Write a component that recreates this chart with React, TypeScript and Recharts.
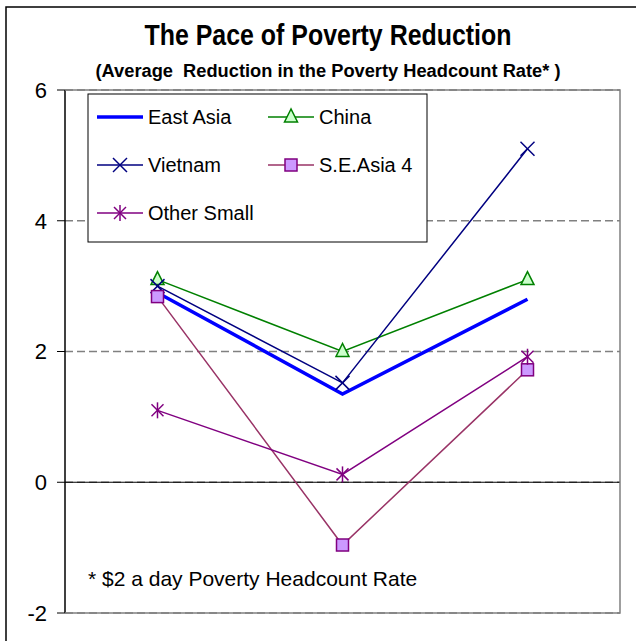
import React from 'react';
import { LineChart, Line, XAxis, YAxis, CartesianGrid, ReferenceLine } from 'recharts';

// values
const periods = ['1990-96', '1997-2001', '2002-06'];
const eastAsia = [2.9, 1.35, 2.8];
const china = [3.1, 2.0, 3.1];
const vietnam = [3.0, 1.52, 5.1];
const seAsia4 = [2.84, -0.96, 1.72];
const otherSmall = [1.1, 0.12, 1.92];
const yTicks = [-2, 0, 2, 4, 6];

const data = periods.map((p, i) => ({
  period: p,
  eastAsia: eastAsia[i],
  china: china[i],
  vietnam: vietnam[i],
  seAsia4: seAsia4[i],
  otherSmall: otherSmall[i],
}));

const FONT = '"Liberation Sans", Arial, sans-serif';
const W = 636;
const H = 641;
const PLOT = { left: 65, right: 620, top: 90, bottom: 613 };
const Y_W = 60;
const zeroY = PLOT.top + ((6 - 0) / 8) * (PLOT.bottom - PLOT.top);

type Mk = (cx: number, cy: number, key?: string | number) => React.ReactElement;

const triangle: Mk = (cx, cy, key) => (
  <polygon key={key} points={`${cx},${cy - 8} ${cx - 6.5},${cy + 5} ${cx + 6.5},${cy + 5}`}
    fill="#CCFFCC" stroke="#008000" strokeWidth={1.5} />
);
const cross: Mk = (cx, cy, key) => (
  <g key={key} stroke="#000080" strokeWidth={1.5}>
    <line x1={cx - 7} y1={cy - 7} x2={cx + 7} y2={cy + 7} />
    <line x1={cx - 7} y1={cy + 7} x2={cx + 7} y2={cy - 7} />
  </g>
);
const square: Mk = (cx, cy, key) => (
  <rect key={key} x={cx - 6} y={cy - 6} width={12} height={12} fill="#CC99FF" stroke="#800080" strokeWidth={1.5} />
);
const star: Mk = (cx, cy, key) => (
  <g key={key} stroke="#800080" strokeWidth={1.5}>
    <line x1={cx} y1={cy - 8} x2={cx} y2={cy + 8} />
    <line x1={cx - 6} y1={cy - 6} x2={cx + 6} y2={cy + 6} />
    <line x1={cx - 6} y1={cy + 6} x2={cx + 6} y2={cy - 6} />
  </g>
);

const series = [
  { key: 'eastAsia', name: 'East Asia', color: '#0000FF', width: 3.5, marker: null as Mk | null },
  { key: 'china', name: 'China', color: '#008000', width: 1.5, marker: triangle },
  { key: 'vietnam', name: 'Vietnam', color: '#000080', width: 1.5, marker: cross },
  { key: 'seAsia4', name: 'S.E.Asia 4', color: '#993366', width: 1.5, marker: square },
  { key: 'otherSmall', name: 'Other Small', color: '#800080', width: 1.5, marker: star },
];

const XTick = (props: any) => (
  <text x={props.x} y={zeroY + 51} textAnchor="middle" fontSize={22} fontFamily={FONT} fill="#000">
    {props.payload.value}
  </text>
);

const legendPos = [
  { x: 97, y: 117 },
  { x: 268, y: 117 },
  { x: 97, y: 165 },
  { x: 268, y: 165 },
  { x: 97, y: 213 },
];

const App: React.FC = () => (
  <div style={{ position: 'absolute', top: 0, left: 0, width: W, height: H, background: '#fff' }}>
    <LineChart width={W} height={H} data={data}
      margin={{ top: PLOT.top, right: W - PLOT.right, bottom: H - PLOT.bottom, left: PLOT.left - Y_W }}>
      <CartesianGrid vertical={false} stroke="#808080" strokeDasharray="8 4" strokeWidth={1.5} />
      <XAxis dataKey="period" height={0} axisLine={false} tickLine={false} interval={0}
        padding={{ left: 92.5, right: 92.5 }} tick={<XTick />} />
      <YAxis width={Y_W} domain={[-2, 6]} ticks={yTicks} interval={0}
        axisLine={{ stroke: '#000', strokeWidth: 1.5 }} tickLine={{ stroke: '#000' }}
        tickSize={8} tickMargin={10} tick={{ fill: '#000', fontSize: 22, fontFamily: FONT }} />
      <ReferenceLine y={0} stroke="#000" strokeWidth={1.2} />
      {series.map((s) => (
        <Line key={s.key} dataKey={s.key} name={s.name} type="linear" stroke={s.color} strokeWidth={s.width}
          isAnimationActive={false}
          dot={s.marker ? (p: any) => s.marker!(p.cx, p.cy, `${s.key}-${p.index}`) : false}
          activeDot={false} />
      ))}
    </LineChart>
    <svg width={W} height={H} style={{ position: 'absolute', top: 0, left: 0, pointerEvents: 'none' }}
      fontFamily={FONT}>
      <path d={`M6,${H} L6,7 L${W},7`} fill="none" stroke="#000" strokeWidth={1.5} />
      <path d={`M${PLOT.left},${PLOT.top} L${PLOT.right},${PLOT.top} L${PLOT.right},${PLOT.bottom} L${PLOT.left},${PLOT.bottom}`}
        fill="none" stroke="#808080" strokeWidth={1.5} />
      <text x={328} y={45} textAnchor="middle" fontSize={29} fontWeight="bold" textLength={367}
        lengthAdjust="spacingAndGlyphs">The Pace of Poverty Reduction</text>
      <text x={328} y={77} textAnchor="middle" fontSize={18} fontWeight="bold" textLength={465}
        lengthAdjust="spacingAndGlyphs" style={{ whiteSpace: 'pre' }}>(Average  Reduction in the Poverty Headcount Rate* )</text>
      <rect x={88} y={94} width={339} height={148} fill="#fff" stroke="#000" strokeWidth={1} />
      {series.map((s, i) => {
        const { x, y } = legendPos[i];
        return (
          <g key={s.key}>
            <line x1={x} y1={y} x2={x + 46} y2={y} stroke={s.color} strokeWidth={s.width} />
            {s.marker && s.marker(x + 23, y)}
            <text x={x + 51} y={y + 7} fontSize={20} fill="#000">{s.name}</text>
          </g>
        );
      })}
      <text x={88} y={586} fontSize={21} fill="#000">* $2 a day Poverty Headcount Rate</text>
    </svg>
  </div>
);

export default App;
